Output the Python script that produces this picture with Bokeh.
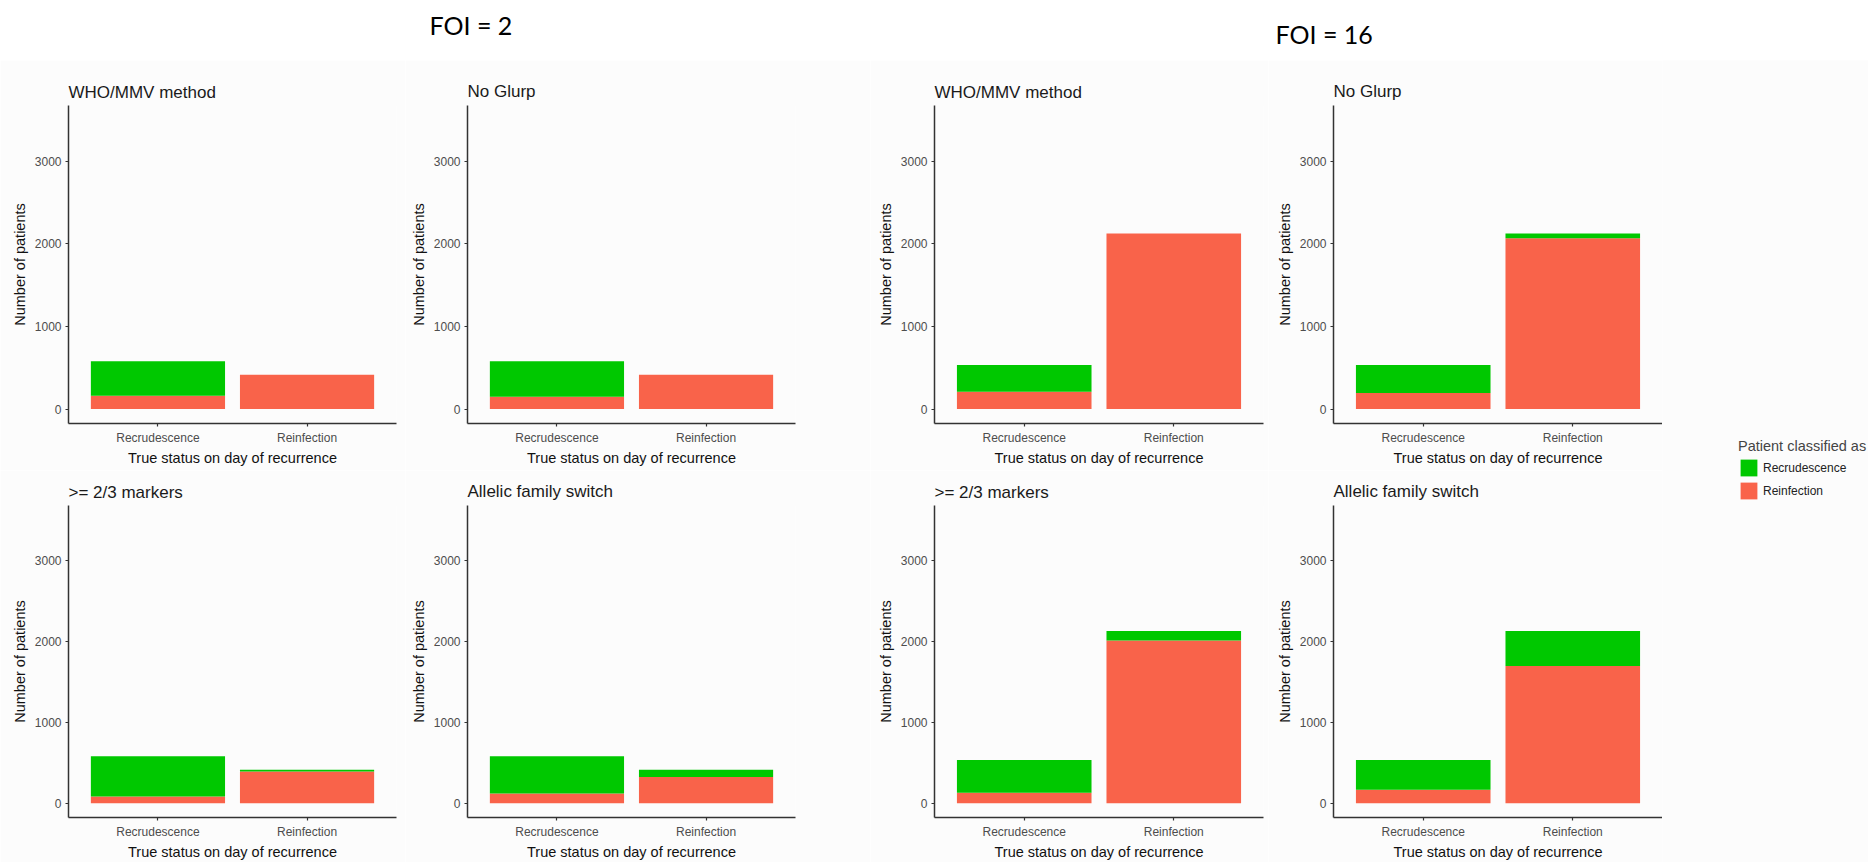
from bokeh.plotting import figure
from bokeh.models import (ColumnDataSource, Range1d, FixedTicker, Label,
                          Legend, LegendItem)
from bokeh.layouts import row, column
from bokeh.embed import file_html
from bokeh.resources import INLINE

# ---- data -------------------------------------------------------------
categories = ["Recrudescence", "Reinfection"]
methods = ["WHO/MMV method", "No Glurp", ">= 2/3 markers", "Allelic family switch"]
y_ticks = [0, 1000, 2000, 3000]

# FOI = 2 : patients per method (same order as `methods`)
foi2_recrud_as_reinf = [160, 150, 84, 120]
foi2_recrud_as_recrud = [420, 430, 496, 460]
foi2_reinf_as_reinf = [415, 415, 392, 324]
foi2_reinf_as_recrud = [0, 0, 23, 91]

# FOI = 16
foi16_recrud_as_reinf = [208, 194, 129, 168]
foi16_recrud_as_recrud = [326, 340, 405, 366]
foi16_reinf_as_reinf = [2125, 2069, 2008, 1696]
foi16_reinf_as_recrud = [0, 56, 117, 429]

legend_labels = ["Recrudescence", "Reinfection"]

# ---- style --------------------------------------------------------------
GREEN = "#00C800"
RED = "#F9634A"
FONT = "Liberation Sans"
PANEL_BG = "#FCFCFC"
AXIS_COL = "#333333"


def panel(k, as_reinf, as_recrud, width, height, left, right, top, bottom, standoff):
    # stacked counts for the two true-status categories of method k
    red = [as_reinf[0][k], as_reinf[1][k]]
    green = [as_recrud[0][k], as_recrud[1][k]]
    src = ColumnDataSource(dict(
        x=[i + 1 for i in range(len(categories))],
        red_top=red,
        green_bottom=red,
        green_top=[r + g for r, g in zip(red, green)],
    ))
    p = figure(width=width, height=height, output_backend="svg",
               toolbar_location=None, x_range=Range1d(0.4, 2.6),
               y_range=Range1d(-175, 3675),
               min_border_left=left, min_border_right=right,
               min_border_top=top, min_border_bottom=bottom)
    p.vbar(x="x", bottom=0, top="red_top", width=0.9, source=src,
           fill_color=RED, line_color=None)
    p.vbar(x="x", bottom="green_bottom", top="green_top", width=0.9,
           source=src, fill_color=GREEN, line_color=None)

    p.title.text = methods[k]
    p.title.text_font = FONT
    p.title.text_font_size = "17px"
    p.title.text_font_style = "normal"
    p.title.text_color = "#1A1A1A"
    p.title.align = "left"
    p.title.offset = 0
    p.title.standoff = standoff

    p.xaxis.ticker = FixedTicker(ticks=[i + 1 for i in range(len(categories))])
    p.xaxis.major_label_overrides = {i + 1: c for i, c in enumerate(categories)}
    p.xaxis.axis_label = "True status on day of recurrence"
    p.yaxis.ticker = FixedTicker(ticks=y_ticks)
    p.yaxis.axis_label = "Number of patients"

    for ax in (p.xaxis[0], p.yaxis[0]):
        ax.axis_line_color = AXIS_COL
        ax.axis_line_width = 1.5
        ax.major_tick_line_color = AXIS_COL
        ax.major_tick_line_width = 1.2
        ax.major_tick_out = 3
        ax.major_tick_in = 0
        ax.minor_tick_line_color = None
        ax.major_label_text_font = FONT
        ax.major_label_text_font_size = "12px"
        ax.major_label_text_color = "#4D4D4D"
        ax.major_label_standoff = 4
        ax.axis_label_text_font = FONT
        ax.axis_label_text_font_size = "14.5px"
        ax.axis_label_text_font_style = "normal"
        ax.axis_label_text_color = "#111111"
        ax.axis_label_standoff = 4
    p.xaxis.axis_label_standoff = 2

    p.xgrid.visible = False
    p.ygrid.visible = False
    p.outline_line_color = None
    p.background_fill_color = PANEL_BG
    p.border_fill_color = PANEL_BG
    return p


f2_reinf = (foi2_recrud_as_reinf, foi2_reinf_as_reinf)
f2_recrud = (foi2_recrud_as_recrud, foi2_reinf_as_recrud)
f16_reinf = (foi16_recrud_as_reinf, foi16_reinf_as_reinf)
f16_recrud = (foi16_recrud_as_recrud, foi16_reinf_as_recrud)

# top row (height 410), bottom row (height 392)
p1 = panel(0, f2_reinf, f2_recrud, 405, 410, 68, 9, 42, 47, 7)
p2 = panel(1, f2_reinf, f2_recrud, 465, 410, 62, 75, 45, 47, 10)
p3 = panel(0, f16_reinf, f16_recrud, 398, 410, 64, 5, 43, 45, 8)
p4 = panel(1, f16_reinf, f16_recrud, 394, 410, 65, 0, 45, 46, 10)

p5 = panel(2, f2_reinf, f2_recrud, 405, 392, 68, 9, 31, 39, 7)
p6 = panel(3, f2_reinf, f2_recrud, 465, 392, 62, 75, 34, 39, 10)
p7 = panel(2, f16_reinf, f16_recrud, 398, 392, 64, 5, 32, 39, 8)
p8 = panel(3, f16_reinf, f16_recrud, 394, 392, 65, 0, 35, 39, 10)

# header with the two FOI captions
header = figure(width=1868, height=60, output_backend="svg",
                toolbar_location=None, x_range=Range1d(0, 1), y_range=Range1d(0, 1),
                min_border=0, x_axis_type=None, y_axis_type=None)
header.grid.visible = False
header.outline_line_color = None
for txt, sx, sy in (("FOI = 2", 429, 36), ("FOI = 16", 1275, 27)):
    header.add_layout(Label(x=sx, y=sy, x_units="screen", y_units="screen",
                            text=txt, text_font="Lato", text_font_size="25px",
                            text_color="#000000", text_baseline="middle"))

# legend column on the right; its key renderers sit outside the visible range
leg = figure(width=206, height=802, output_backend="svg", toolbar_location=None,
             x_range=Range1d(0, 1), y_range=Range1d(0, 1), min_border=0,
             x_axis_type=None, y_axis_type=None)
leg.grid.visible = False
leg.outline_line_color = None
leg.background_fill_color = PANEL_BG
leg.border_fill_color = PANEL_BG
key_src = ColumnDataSource(dict(x=[-10.0], top=[0.0]))
r_green = leg.vbar(x="x", top="top", width=0.9, source=key_src,
                   fill_color=GREEN, line_color=None)
r_red = leg.vbar(x="x", top="top", width=0.9, source=key_src,
                 fill_color=RED, line_color=None)
legend = Legend(items=[LegendItem(label=legend_labels[0], renderers=[r_green]),
                       LegendItem(label=legend_labels[1], renderers=[r_red])],
                title="Patient classified as", location=(76, 361),
                glyph_width=21, glyph_height=21, label_height=21,
                label_standoff=4, spacing=2, padding=0, margin=0,
                border_line_color=None, background_fill_alpha=0,
                label_text_font=FONT, label_text_font_size="12px",
                label_text_color="#222222",
                title_text_font=FONT, title_text_font_size="14.5px",
                title_text_font_style="normal", title_standoff=3)
leg.add_layout(legend)

layout = column(header,
                row(column(row(p1, p2, p3, p4), row(p5, p6, p7, p8)), leg))

open("out.html", "w").write(file_html(layout, INLINE))
